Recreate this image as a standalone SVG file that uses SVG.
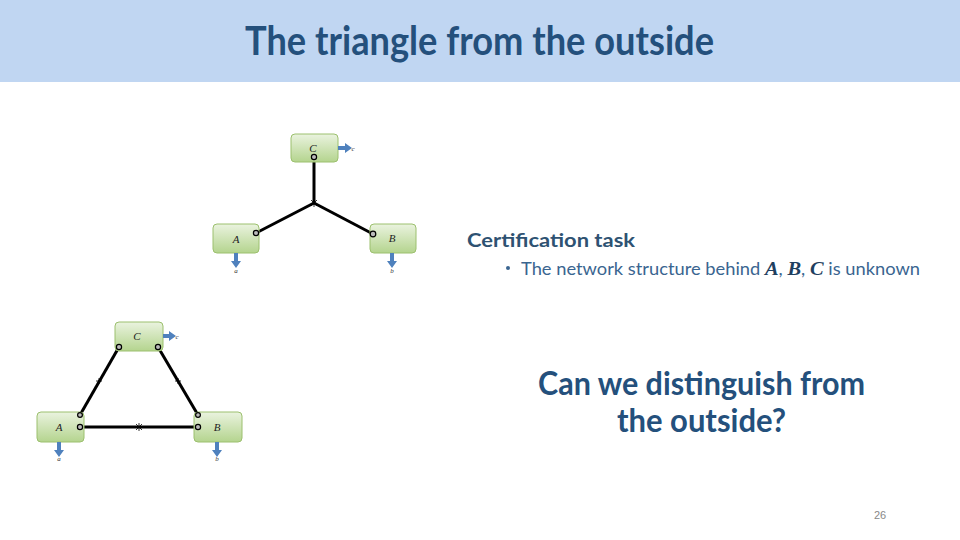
<svg xmlns="http://www.w3.org/2000/svg" width="960" height="540" viewBox="0 0 960 540">
<defs>
<linearGradient id="g" x1="0" y1="0" x2="0" y2="1">
<stop offset="0" stop-color="#eaf3df"/>
<stop offset="1" stop-color="#b4d48e"/>
</linearGradient>
<style>
.box{fill:url(#g);stroke:#9cc06e;stroke-width:1}
.lbl{font-family:"Liberation Serif",serif;font-style:italic;font-size:11px;fill:#222;text-anchor:middle}
.out{font-family:"Liberation Serif",serif;font-style:italic;font-size:7px;fill:#333;text-anchor:middle}
.arr{fill:#4f81bd}
.edge{stroke:#000;stroke-width:3;fill:none}
.pt{fill:#bbb;stroke:#000;stroke-width:1.2}
.mk{stroke:#000;stroke-width:0.8}
.h{font-family:Lato,"Liberation Sans",sans-serif;fill:#24507c;font-weight:bold}
</style>
</defs>
<rect width="960" height="540" fill="#fff"/>
<rect x="0" y="0" width="960" height="82" fill="#c0d6f2"/>
<text class="h" x="245" y="55" font-size="40" textLength="469" lengthAdjust="spacingAndGlyphs">The triangle from the outside</text>

<g id="connectors">
<line class="edge" x1="314" y1="157" x2="314" y2="203"/>
<line class="edge" x1="314" y1="203" x2="256" y2="233"/>
<line class="edge" x1="314" y1="203" x2="373" y2="234"/>
<path class="mk" d="M311 200 L317 206 M317 200 L311 206 M314 199 V207"/>
<line class="edge" x1="119" y1="347" x2="80" y2="415"/>
<line class="edge" x1="158" y1="347" x2="198" y2="415"/>
<line class="edge" x1="80" y1="427" x2="198" y2="427"/>
<path class="mk" d="M96 381 L102 381 M99 378 V384 M175 381 L181 381 M178 378 V384 M136 424 L142 430 M142 424 L136 430 M139 423 V431"/>
</g>

<g id="top-C">
<rect class="box" x="291" y="134" width="47" height="28" rx="4"/>
<text class="lbl" x="313" y="152">C</text>
<path class="arr" d="M338 146 H345 V143 L352 148 L345 153 V150 H338 Z"/>
<text class="out" x="353" y="151" text-anchor="start">c</text>
<circle class="pt" cx="314" cy="157" r="2.6"/>
</g>
<g id="top-A">
<rect class="box" x="213" y="224" width="46" height="29" rx="4"/>
<text class="lbl" x="236" y="243">A</text>
<path class="arr" d="M234 253 H238 V261 H241 L236 268 L231 261 H234 Z"/>
<text class="out" x="236" y="273">a</text>
<circle class="pt" cx="256" cy="233" r="2.6"/>
</g>
<g id="top-B">
<rect class="box" x="370" y="224" width="46" height="29" rx="4"/>
<text class="lbl" x="392" y="242">B</text>
<path class="arr" d="M390 253 H394 V261 H397 L392 268 L387 261 H390 Z"/>
<text class="out" x="392" y="273">b</text>
<circle class="pt" cx="373" cy="234" r="2.8"/>
</g>

<g id="bot-C">
<rect class="box" x="115" y="322" width="48" height="29" rx="4"/>
<text class="lbl" x="137" y="340">C</text>
<path class="arr" d="M163 334 H169 V331 L176 336 L169 341 V338 H163 Z"/>
<text class="out" x="177" y="339" text-anchor="start">c</text>
<circle class="pt" cx="119" cy="347" r="2.6"/>
<circle class="pt" cx="158" cy="347" r="2.6"/>
</g>
<g id="bot-A">
<rect class="box" x="37" y="412" width="47" height="30" rx="4"/>
<text class="lbl" x="59" y="431">A</text>
<path class="arr" d="M57 442 H61 V450 H64 L59 457 L54 450 H57 Z"/>
<text class="out" x="59" y="461">a</text>
<circle class="pt" cx="80" cy="415" r="2.4"/>
<circle class="pt" cx="80" cy="427" r="2.6"/>
</g>
<g id="bot-B">
<rect class="box" x="194" y="412" width="48" height="30" rx="4"/>
<text class="lbl" x="217" y="431">B</text>
<path class="arr" d="M215 442 H219 V450 H222 L217 457 L212 450 H215 Z"/>
<text class="out" x="217" y="461">b</text>
<circle class="pt" cx="198" cy="415" r="2.4"/>
<circle class="pt" cx="198" cy="427" r="2.6"/>
</g>

<text class="h" x="467" y="247" font-size="19" textLength="168" lengthAdjust="spacingAndGlyphs" style="fill:#2e5272">Certification task</text>
<circle cx="508" cy="268" r="2" fill="#3a6590"/>
<text x="521" y="275" font-size="17" font-family="Lato,'Liberation Sans',sans-serif" fill="#3a6590" textLength="399" lengthAdjust="spacingAndGlyphs">The network structure behind <tspan font-family="'Liberation Serif',serif" font-weight="bold" font-style="italic" fill="#1f3f60" font-size="19">A</tspan>, <tspan font-family="'Liberation Serif',serif" font-weight="bold" font-style="italic" fill="#1f3f60" font-size="19">B</tspan>, <tspan font-family="'Liberation Serif',serif" font-weight="bold" font-style="italic" fill="#1f3f60" font-size="19">C</tspan> is unknown</text>

<text class="h" x="538" y="395" font-size="32" textLength="327" lengthAdjust="spacingAndGlyphs">Can we distinguish from</text>
<text class="h" x="617" y="432" font-size="32" textLength="169" lengthAdjust="spacingAndGlyphs">the outside?</text>

<text x="880" y="519" font-size="11" font-family="'Liberation Sans',sans-serif" fill="#888" text-anchor="middle">26</text>
</svg>
